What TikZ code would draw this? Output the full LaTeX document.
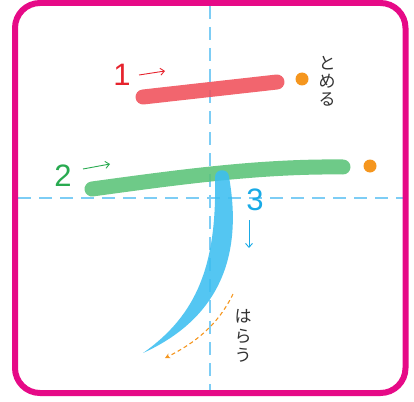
\documentclass[tikz,border=0pt]{standalone}
\usepackage{fontspec}
\setmainfont{Liberation Sans}
\newfontfamily\jpfont{Noto Sans CJK JP}
\usetikzlibrary{arrows.meta}
\definecolor{frame}{RGB}{230,10,135}
\definecolor{guide}{RGB}{125,205,245}
\definecolor{strokered}{RGB}{240,80,90}
\definecolor{strokegreen}{RGB}{90,195,120}
\definecolor{strokeblue}{RGB}{60,190,240}
\definecolor{dotorange}{RGB}{245,150,30}
\definecolor{labred}{RGB}{230,35,45}
\definecolor{labgreen}{RGB}{40,170,80}
\definecolor{labblue}{RGB}{25,170,230}
\definecolor{jptext}{RGB}{50,50,50}
\tikzset{
  guideline/.style={guide, line width=2.6pt, dash pattern=on 13pt off 8pt},
  brush/.style={line width=15pt, line cap=round, opacity=0.88},
  numlabel/.style={font=\fontsize{31}{31}\selectfont, inner sep=0pt},
  dirarrow/.style={line width=0.9pt, -{Straight Barb[length=4pt,width=7pt]}},
  enddot/.style={circle, fill=dotorange, minimum size=13pt, inner sep=0pt},
  jplabel/.style={font=\jpfont\fontsize{17}{18}\selectfont, text=jptext, align=center, inner sep=0pt},
}
\begin{document}
\begin{tikzpicture}[x=1pt,y=-1pt]
\useasboundingbox (0,0) rectangle (414,401);
% guides
\draw[guideline] (210,6) -- (210,390);
\draw[guideline] (18,198) -- (403,198);
% stroke 1
\coordinate (r1) at (143,97);
\coordinate (r2) at (277,82);
\draw[brush, strokered] (r1) -- (r2);
% stroke 2
\coordinate (g1) at (92,189);
\coordinate (g2) at (343,167);
\draw[brush, strokegreen] (g1) .. controls (180,177) and (260,166) .. (g2);
% stroke 3
\fill[strokeblue, opacity=0.88] (215,177) .. controls (215,168) and (229,168) .. (229,177)
  .. controls (243,255) and (220,318) .. (143,353)
  .. controls (197,315) and (217,265) .. (215,177) -- cycle;
% end dots
\node[enddot] (d1) at (302,79) {};
\node[enddot] (d2) at (370,166) {};
% labels
\node[numlabel, text=labred] (n1) at (122,75) {1};
\node[numlabel, text=labgreen] (n2) at (63,176) {2};
\node[numlabel, text=labblue] (n3) at (255,200) {3};
\coordinate (a1s) at (139,75);
\coordinate (a1e) at (165,71);
\draw[dirarrow, labred] (a1s) -- (a1e);
\coordinate (a2s) at (83,169);
\coordinate (a2e) at (110,164);
\draw[dirarrow, labgreen] (a2s) -- (a2e);
\coordinate (a3s) at (249,220);
\coordinate (a3e) at (249,248);
\draw[dirarrow, labblue] (a3s) -- (a3e);
% harau arrow
\coordinate (h1) at (233,294);
\coordinate (h2) at (165,358);
\draw[dotorange, line width=1.1pt, dash pattern=on 4pt off 3pt, -{Stealth[length=5pt,width=5pt]}]
  (h1) .. controls (218,325) and (195,343) .. (h2);
% japanese labels
\node[jplabel] (tomeru) at (327,81) {と\\め\\る};
\node[jplabel, font=\jpfont\fontsize{17}{19.5}\selectfont] (harau) at (243,336) {は\\ら\\う};
% frame
\draw[frame, line width=6pt, rounded corners=25pt] (15,3) rectangle (405.5,393);
\end{tikzpicture}
\end{document}
